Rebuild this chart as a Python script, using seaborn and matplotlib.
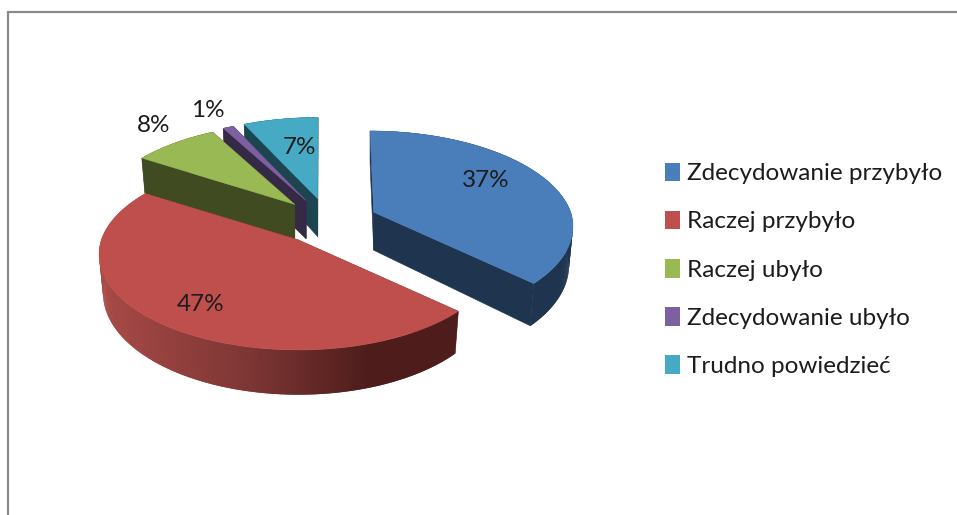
import numpy as np
import matplotlib
matplotlib.use("Agg")
import matplotlib.pyplot as plt
from matplotlib.patches import Patch
import seaborn as sns

categories = ["Zdecydowanie przybyło", "Raczej przybyło", "Raczej ubyło",
              "Zdecydowanie ubyło", "Trudno powiedzieć"]
values = [37, 47, 8, 1, 7]
value_labels = ["37%", "47%", "8%", "1%", "7%"]

top_colors = ["#4A7EBB", "#BE4F4C", "#98B954", "#7D60A0", "#46AAC4"]
wall_colors = ["#1F344F", "#7D3634", "#414B22", "#352A46", "#1C4551"]

sns.set_theme(style="white")
plt.rcParams["font.family"] = ["Lato", "DejaVu Sans"]
palette = sns.color_palette(top_colors)

fig, ax = plt.subplots(figsize=(9.57, 5.15), dpi=100)
ax.set_position([0, 0, 1, 1])
ax.set_xlim(0, 957)
ax.set_ylim(515, 0)
ax.axis("off")

# camera model of the exploded 3-D pie
CX, CY, RX, RY, K, DEPTH, EXPLODE, VP = 328.5, 221.5, 197, 93.5, 0.15, 38, 0.25, 321


def project(theta, r, apex):
    u, v = r * np.sin(theta), -r * np.cos(theta)
    w = 1 - K * v
    x = apex[0] + RX * u / w + (apex[0] - VP) * 0.07 * np.minimum(v, 0)
    y = apex[1] + RY * v / w
    return x, y, w


def lower(x, y, w, apex):
    return apex[0] + (x - apex[0]) * 0.98, y + DEPTH / w


red_stops_x = [100, 250, 370, 460]
red_stops_rgb = np.array([[168, 74, 71], [125, 54, 52], [78, 29, 27], [78, 29, 27]]) / 255

fractions = np.array(values) / sum(values)
edges = np.concatenate([[0], np.cumsum(fractions)]) * 2 * np.pi

slices = []
for i in range(len(values)):
    t0, t1 = edges[i], edges[i + 1]
    mid = (t0 + t1) / 2
    apex = (CX + EXPLODE * np.sin(mid) * RX, CY - EXPLODE * np.cos(mid) * RY)
    slices.append((i, t0, t1, apex))

for order, j in enumerate((4, 3, 2, 0, 1)):
    i, t0, t1, apex = slices[j]
    z = 1 + order
    thetas = np.linspace(t0, t1, max(8, int((t1 - t0) * 90)))
    xs, ys, ws = project(thetas, 1.0, apex)
    bx, by = lower(xs, ys, ws, apex)
    ax_bot = (apex[0], apex[1] + DEPTH)
    # radial walls
    for k in (0, -1):
        ax.fill([apex[0], xs[k], bx[k], ax_bot[0]],
                [apex[1], ys[k], by[k], ax_bot[1]],
                color=wall_colors[i], lw=0.4, zorder=z)
    # outer wall: strips overlap so no seams show between them
    for k in range(len(thetas) - 1):
        e = min(k + 2, len(thetas) - 1)
        if i == 1:
            c = [np.interp(xs[k], red_stops_x, red_stops_rgb[:, n]) for n in range(3)]
        else:
            c = wall_colors[i]
        ax.fill([xs[k], xs[e], bx[e], bx[k]],
                [ys[k], ys[e], by[e], by[k]],
                color=c, lw=0, zorder=z)
    # top face
    ax.fill(np.r_[apex[0], xs], np.r_[apex[1], ys], color=palette[i], lw=0.3, zorder=z + 0.5)

# data labels
label_xy = [(486, 180.5), (201, 304.5), (154, 125.5), (208, 110.5), (299, 147.5)]
for lab, (x, y) in zip(value_labels, label_xy):
    ax.text(x, y, lab, ha="center", va="center", fontsize=17.5, color="#1c1c1c", zorder=10)

# chart frame
ax.plot([8, 8, 957], [515, 12, 12], color="#8A8A8A", lw=1.6,
        solid_joinstyle="miter", zorder=0)

handles = [Patch(facecolor=c, edgecolor="none") for c in palette]
ax.legend(handles, categories, loc="upper left", bbox_to_anchor=(665 / 957, 1 - 162.5 / 515),
          frameon=False, fontsize=17.5, labelspacing=1.09, handlelength=0.62,
          handleheight=0.8, handletextpad=0.29, borderaxespad=0, borderpad=0,
          labelcolor="#1c1c1c")

fig.savefig("out.png", dpi=100, facecolor="white")
